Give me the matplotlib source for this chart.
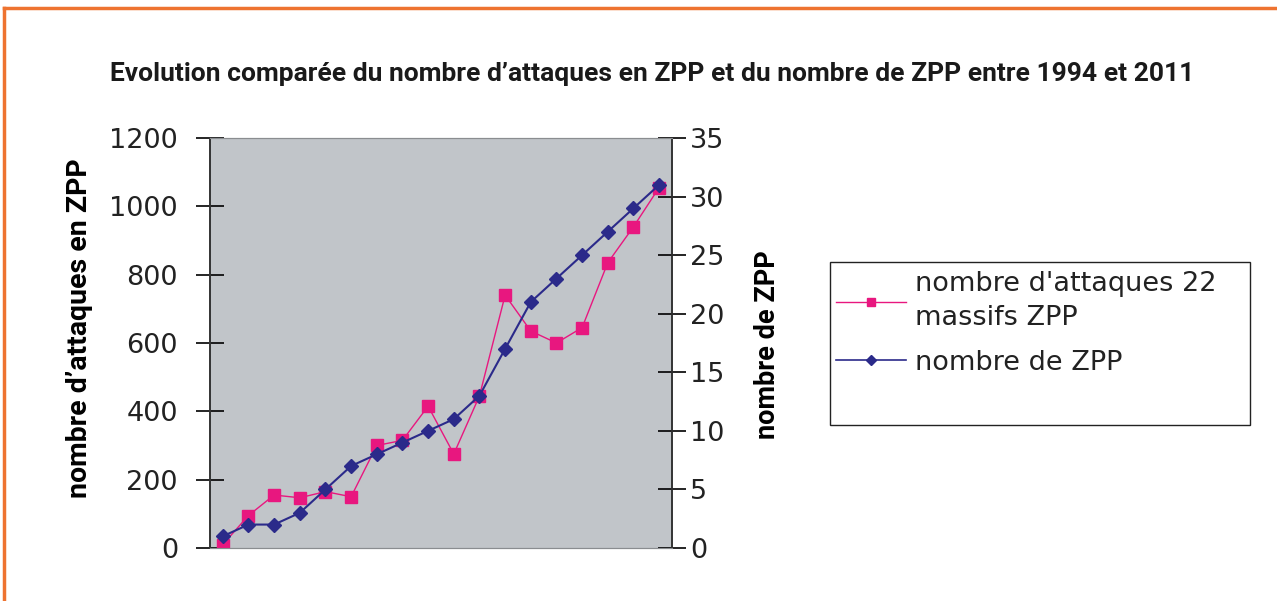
import matplotlib.pyplot as plt
from matplotlib.lines import Line2D
from matplotlib.patches import Rectangle

years = list(range(1994, 2012))
attaques = [10, 95, 155, 147, 165, 150, 300, 315, 415, 275, 445,
            740, 635, 600, 645, 835, 940, 1055]
nb_zpp = [1, 2, 2, 3, 5, 7, 8, 9, 10, 11, 13, 17, 21, 23, 25, 27, 29, 31]

left_ticks = [0, 200, 400, 600, 800, 1000, 1200]
right_ticks = [0, 5, 10, 15, 20, 25, 30, 35]

pink = '#e8177f'
navy = '#2b2a8a'
tick_font = 'DejaVu Sans'

fig = plt.figure(figsize=(12.77, 6.01), dpi=100)

# orange frame (top and left)
fig.add_artist(Line2D([0.003, 1.0], [0.987, 0.987], color='#ee7330', lw=2.5,
                      transform=fig.transFigure))
fig.add_artist(Line2D([0.0035, 0.0035], [0.0, 0.987], color='#ee7330', lw=2.5,
                      transform=fig.transFigure))

fig.text(0.511, 0.877,
         "Evolution comparée du nombre d\u2019attaques en ZPP et du nombre de ZPP entre 1994 et 2011",
         ha='center', va='center', fontsize=19, fontweight='bold',
         family='Roboto', color='#1a1a1a')

ax = fig.add_axes([0.1644, 0.0882, 0.3618, 0.6822])
ax.set_facecolor('#c1c5c9')
x = list(range(len(years)))

ax.plot(x, attaques, color=pink, lw=1.0, marker='s', markersize=8.5,
        markerfacecolor=pink, markeredgecolor=pink, zorder=3)
ax.set_xlim(-0.5, len(years) - 0.5)
ax.set_ylim(0, 1200)
ax.set_yticks(left_ticks)
ax.set_xticks([])
ax.tick_params(axis='y', direction='inout', length=20, width=1.2,
               labelsize=19.5, pad=13, labelcolor='#222222')
for lab in ax.get_yticklabels():
    lab.set_family(tick_font)
ax.set_ylabel("nombre d\u2019attaques en ZPP", fontsize=20.5, fontweight='bold',
              family='Roboto')
ax.yaxis.set_label_coords(-0.254, 0.535)

ax2 = ax.twinx()
ax2.plot(x, nb_zpp, color=navy, lw=1.5, marker='D', markersize=7.5,
         markerfacecolor=navy, markeredgecolor=navy, zorder=4)
ax2.set_ylim(0, 35)
ax2.set_yticks(right_ticks)
ax2.tick_params(axis='y', direction='inout', length=20, width=1.2,
                labelsize=19.5, pad=3, labelcolor='#222222')
for lab in ax2.get_yticklabels():
    lab.set_family(tick_font)
ax2.set_ylabel("nombre de ZPP", fontsize=19.5, fontweight='bold',
               family='Roboto')
ax2.yaxis.set_label_coords(1.178, 0.495)

for a in (ax, ax2):
    a.spines['top'].set_color('#8a8d90')
    a.spines['bottom'].set_color('#8a8d90')
    a.spines['left'].set_color('#333333')
    a.spines['right'].set_color('#333333')
    a.spines['left'].set_linewidth(1.2)
    a.spines['right'].set_linewidth(1.2)

# legend box drawn separately (it has extra empty room at the bottom)
fig.add_artist(Rectangle((830 / 1277, 1 - 425 / 601), 420 / 1277, 163 / 601,
                         transform=fig.transFigure, facecolor='white',
                         edgecolor='#222222', lw=1.0, zorder=5))
handles = [
    Line2D([], [], color=pink, lw=1.0, marker='s', markersize=6,
           markerfacecolor=pink, markeredgecolor=pink),
    Line2D([], [], color=navy, lw=1.2, marker='D', markersize=5,
           markerfacecolor=navy, markeredgecolor=navy),
]
labels = ["nombre d'attaques 22\nmassifs ZPP", "nombre de ZPP"]
leg = fig.legend(handles, labels, loc='upper left',
                 bbox_to_anchor=(836 / 1277, 1 - 271 / 601),
                 bbox_transform=fig.transFigure,
                 prop={'family': tick_font, 'size': 19.5}, frameon=False,
                 handlelength=2.6, handletextpad=0.3, borderpad=0.0,
                 labelspacing=0.7, borderaxespad=0)
leg.set_zorder(6)
for t in leg.get_texts():
    t.set_color('#222222')
    t.set_linespacing(1.4)

fig.savefig('out.png', dpi=100)
